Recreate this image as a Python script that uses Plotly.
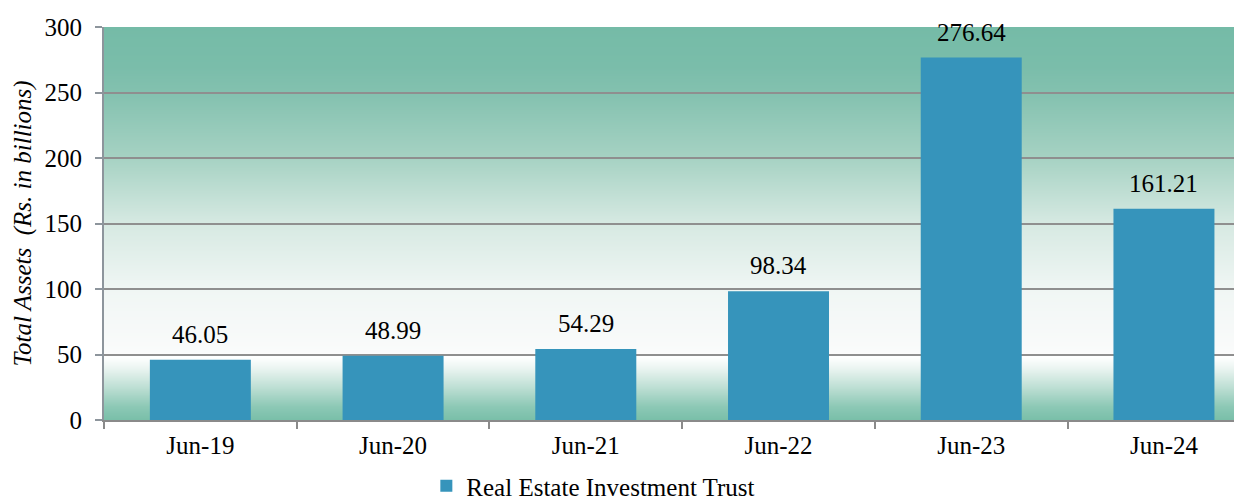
import base64
import struct
import zlib

import plotly.graph_objects as go

categories = ["Jun-19", "Jun-20", "Jun-21", "Jun-22", "Jun-23", "Jun-24"]
total_assets = [46.05, 48.99, 54.29, 98.34, 276.64, 161.21]
series_name = "Real Estate Investment Trust"
y_ticks = [0, 50, 100, 150, 200, 250, 300]

FONT = "Liberation Serif, Times New Roman, serif"
FS = 25
BAR_COLOR = "#3694bb"

# background gradient stops (value on y axis, rgb)
grad_stops = [
    (0, (121, 191, 169)),
    (10, (140, 200, 181)),
    (25, (190, 223, 212)),
    (40, (236, 245, 242)),
    (48, (255, 255, 255)),
    (52, (250, 251, 251)),
    (100, (240, 246, 244)),
    (150, (214, 233, 226)),
    (200, (166, 210, 195)),
    (250, (131, 193, 175)),
    (270, (122, 189, 170)),
    (300, (117, 187, 167)),
]


def interp_rgb(v):
    for (v0, c0), (v1, c1) in zip(grad_stops[:-1], grad_stops[1:]):
        if v0 <= v <= v1:
            t = (v - v0) / (v1 - v0) if v1 > v0 else 0
            return tuple(round(a + (b - a) * t) for a, b in zip(c0, c1))
    return grad_stops[-1][1]


def gradient_png(n_rows=393, width=4, vmax=300.0):
    rows = []
    for i in range(n_rows):
        v = vmax - (i + 0.5) * vmax / n_rows
        rows.append(b"\x00" + bytes(interp_rgb(v)) * width)
    raw = b"".join(rows)

    def chunk(tag, data):
        return (struct.pack(">I", len(data)) + tag + data
                + struct.pack(">I", zlib.crc32(tag + data) & 0xFFFFFFFF))

    ihdr = struct.pack(">IIBBBBB", width, n_rows, 8, 2, 0, 0, 0)
    png = (b"\x89PNG\r\n\x1a\n" + chunk(b"IHDR", ihdr)
           + chunk(b"IDAT", zlib.compress(raw, 9)) + chunk(b"IEND", b""))
    return "data:image/png;base64," + base64.b64encode(png).decode()


fig = go.Figure()
fig.add_trace(go.Bar(
    x=categories,
    y=total_assets,
    name=series_name,
    marker=dict(color=BAR_COLOR, line=dict(width=0)),
    showlegend=True,
))

annotations = [
    dict(x=c, y=val, text=f"{val:.2f}", showarrow=False, yanchor="bottom", yshift=10,
         font=dict(family=FONT, size=FS, color="black"))
    for c, val in zip(categories, total_assets)
]

# page body has an 8px default margin, so the figure is sized to fit the window
fig.update_layout(
    width=1234, height=493,
    margin=dict(l=96, r=0, t=19, b=81, autoexpand=False),
    paper_bgcolor="white",
    plot_bgcolor="rgba(0,0,0,0)",
    bargap=0.476,
    font=dict(family=FONT, size=FS, color="black"),
    images=[dict(
        source=gradient_png(), xref="paper", yref="paper", x=0, y=1,
        sizex=1, sizey=1, xanchor="left", yanchor="top", sizing="stretch",
        layer="below",
    )],
    annotations=annotations,
    showlegend=True,
    legend=dict(
        orientation="h", x=0.43, xanchor="center", y=-0.168, yanchor="middle",
        font=dict(family=FONT, size=FS, color="black"), bgcolor="rgba(0,0,0,0)",
        borderwidth=0, itemsizing="constant",
    ),
    xaxis=dict(
        type="category",
        range=[-0.5, 5.405],
        tickson="boundaries",
        ticks="outside", ticklen=7, tickwidth=2, tickcolor="#8a8a8a",
        showline=True, linecolor="#8a8a8a", linewidth=2,
        showgrid=False, zeroline=False, automargin=False,
        tickfont=dict(family=FONT, size=FS, color="black"),
        ticklabelstandoff=2,
    ),
    yaxis=dict(
        range=[0, 300],
        tickmode="array", tickvals=y_ticks,
        ticks="outside", ticklen=7, tickwidth=2, tickcolor="#8d959c",
        showline=True, linecolor="#8d959c", linewidth=2,
        showgrid=True, gridcolor="#8f8f8f", gridwidth=2,
        zeroline=False, automargin=False,
        tickfont=dict(family=FONT, size=FS, color="black"),
        ticklabelstandoff=8,
        title=dict(text="<i>Total Assets\u00a0\u00a0(Rs. in billions)</i>",
                   font=dict(family=FONT, size=FS, color="black"), standoff=6),
    ),
)

fig.write_html("out.html")
